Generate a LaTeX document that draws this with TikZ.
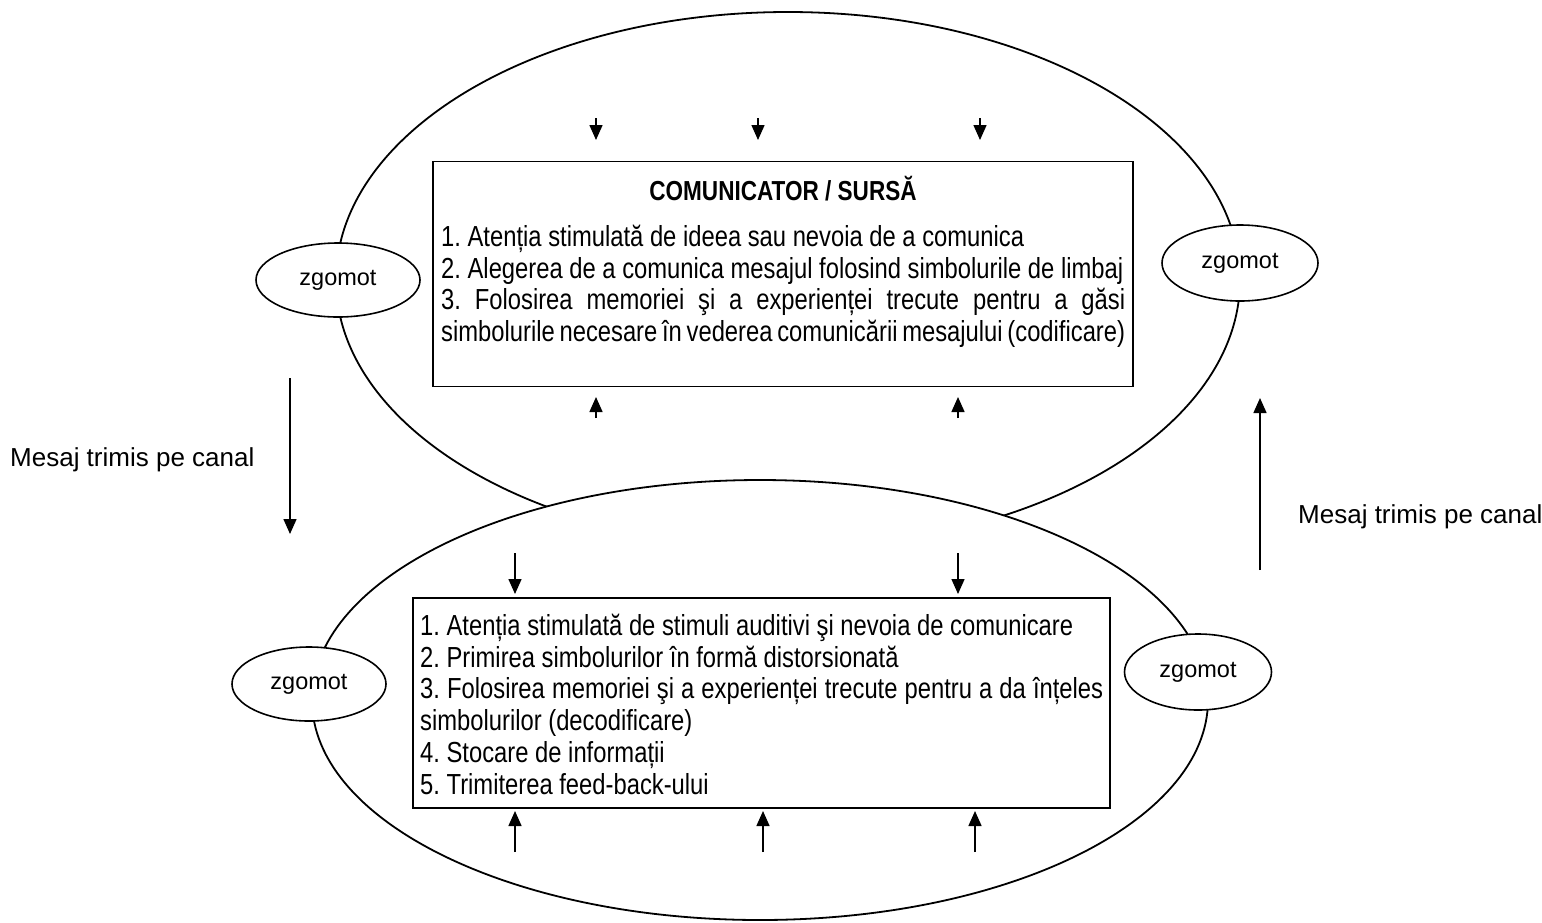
\documentclass[tikz,border=0pt]{standalone}
\usepackage{fontspec}
\setmainfont{Liberation Sans}
\newfontfamily\nar{Liberation Sans}[FakeStretch=0.82]
\usetikzlibrary{arrows.meta,shapes.geometric}
\setlength{\parindent}{0pt}
\frenchspacing
\tikzset{
  bigell/.style={ellipse, draw, line width=1.8pt, inner sep=0pt},
  boxst/.style={rectangle, draw, fill=white, line width=1.8pt, inner sep=0pt},
  noise/.style={ellipse, draw, fill=white, line width=1.6pt, inner sep=0pt,
    font=\fontsize{23.5}{28}\selectfont},
  arr/.style={-{Triangle[width=13pt,length=15pt]}, line width=1.5pt},
  body/.style={text width=684pt, align=justify, inner sep=0pt, anchor=north west,
    font=\nar\fontsize{29}{31.7}\selectfont\frenchspacing},
  titlest/.style={inner sep=0pt, font=\nar\bfseries\fontsize{27.5}{30}\selectfont},
  lab/.style={inner sep=0pt, anchor=west, font=\fontsize{26}{30}\selectfont}
}
\begin{document}
\begin{tikzpicture}[x=1pt,y=-1pt]
\useasboundingbox (0,0) rectangle (1542,922);
% big ellipses
\node[bigell, minimum width=904pt, minimum height=536pt] (topell) at (788,280) {};
\node[bigell, fill=white, minimum width=896pt, minimum height=440pt] (botell) at (760,700) {};
% boxes
\node[boxst, minimum width=700pt, minimum height=225pt] (topbox) at (783,274) {};
\node[boxst, minimum width=697pt, minimum height=210pt] (botbox) at (761.5,703) {};
% noise ellipses
\node[noise, minimum width=164pt, minimum height=74pt] (ztl) at (338,280) {zgomot};
\node[noise, minimum width=156pt, minimum height=76pt] (ztr) at (1240,263) {zgomot};
\node[noise, minimum width=154pt, minimum height=74pt] (zbl) at (309,684) {zgomot};
\node[noise, minimum width=147pt, minimum height=76pt] (zbr) at (1198,672) {zgomot};
% texts
\node[titlest] (toptitle) at (783,189) {COMUNICATOR / SURSĂ};
\node[body] (toptext) at (441,225) {%
\mbox{1. Atenția stimulată de ideea sau nevoia de a comunica}\par
\mbox{2. Alegerea de a comunica mesajul folosind simbolurile de limbaj}\par
3. Folosirea memoriei şi a experienței trecute pentru a găsi\linebreak
simbolurile necesare în vederea comunicării mesajului (codificare)};
\node[body, text width=683pt] (bottext) at (420,614) {%
\mbox{1. Atenția stimulată de stimuli auditivi şi nevoia de comunicare}\par
2. Primirea simbolurilor în formă distorsionată\par
3. Folosirea memoriei şi a experienței trecute pentru a da înțeles\linebreak
simbolurilor (decodificare)\par
4. Stocare de informații\par
5. Trimiterea feed-back-ului};
\node[lab] (labl) at (10,460) {Mesaj trimis pe canal};
\node[lab] (labr) at (1298,517) {Mesaj trimis pe canal};
% arrow coordinates
\coordinate (a1s) at (596,118); \coordinate (a1e) at (596,140);
\coordinate (a2s) at (758,118); \coordinate (a2e) at (758,140);
\coordinate (a3s) at (980,118); \coordinate (a3e) at (980,140);
\coordinate (b1s) at (596,418); \coordinate (b1e) at (596,397);
\coordinate (b2s) at (958,418); \coordinate (b2e) at (958,397);
\coordinate (c1s) at (515,553); \coordinate (c1e) at (515,594);
\coordinate (c2s) at (958,553); \coordinate (c2e) at (958,594);
\coordinate (d1s) at (515,852); \coordinate (d1e) at (515,811);
\coordinate (d2s) at (763,852); \coordinate (d2e) at (763,811);
\coordinate (d3s) at (975,852); \coordinate (d3e) at (975,811);
\coordinate (ls) at (290,378); \coordinate (le) at (290,534);
\coordinate (rs) at (1260,570); \coordinate (re) at (1260,398);
\foreach \p in {a1,a2,a3,b1,b2,c1,c2,d1,d2,d3}{\draw[arr] (\p s) -- (\p e);}
\draw[arr] (ls) -- (le);
\draw[arr] (rs) -- (re);
\end{tikzpicture}
\end{document}
